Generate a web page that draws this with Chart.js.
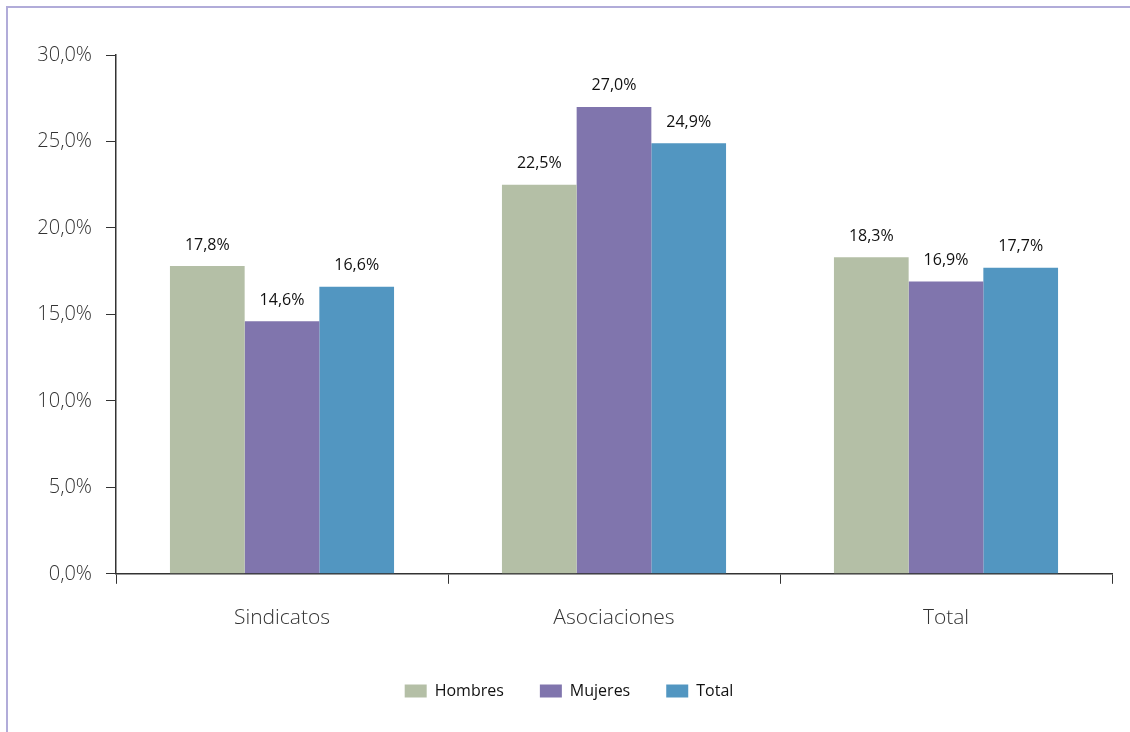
<!DOCTYPE html>
<html>
<head>
<meta charset="utf-8">
<script src="https://cdn.jsdelivr.net/npm/chart.js@4"></script>
<style>
  html, body { margin: 0; padding: 0; background: #fff; }
  #frame {
    position: absolute; left: 6px; top: 6px; right: 0; bottom: 0;
    border-top: 2px solid #b1acd9; border-left: 2px solid #b1acd9;
  }
  #wrap { position: absolute; left: 0; top: 0; width: 1130px; height: 732px; }
</style>
</head>
<body>
<div id="frame"></div>
<div id="wrap"><canvas id="chart" width="1130" height="732"></canvas></div>
<script>
const categories = ['Sindicatos', 'Asociaciones', 'Total'];
const hombres = [17.8, 22.5, 18.3];
const mujeres = [14.6, 27.0, 16.9];
const total = [16.6, 24.9, 17.7];
const yTicks = [0, 5, 10, 15, 20, 25, 30];

const fmt = v => v.toFixed(1).replace('.', ',') + '%';
const FONT = '"Open Sans", "DejaVu Sans", sans-serif';

// value labels above each bar
const barLabels = {
  id: 'barLabels',
  afterDatasetsDraw(chart) {
    const ctx = chart.ctx;
    ctx.save();
    ctx.font = '16px ' + FONT;
    ctx.fillStyle = '#111';
    ctx.textAlign = 'center';
    ctx.textBaseline = 'middle';
    chart.data.datasets.forEach((ds, i) => {
      chart.getDatasetMeta(i).data.forEach((bar, j) => {
        ctx.fillText(fmt(ds.data[j]), bar.x, bar.y - 21);
      });
    });
    ctx.restore();
  }
};

new Chart(document.getElementById('chart'), {
  type: 'bar',
  data: {
    labels: categories,
    datasets: [
      { label: 'Hombres', data: hombres, backgroundColor: '#b4bfa6' },
      { label: 'Mujeres', data: mujeres, backgroundColor: '#8075ad' },
      { label: 'Total', data: total, backgroundColor: '#5296c1' }
    ]
  },
  options: {
    responsive: false,
    animation: false,
    layout: { padding: { top: 55, right: 0, left: 8, bottom: 23 } },
    datasets: { bar: { categoryPercentage: 0.675, barPercentage: 1 } },
    plugins: {
      tooltip: { enabled: false },
      legend: {
        position: 'bottom',
        labels: {
          boxWidth: 22, boxHeight: 13, padding: 36,
          color: '#111',
          font: { family: FONT, size: 16 }
        }
      }
    },
    scales: {
      x: {
        afterFit: s => { s.height -= 6; },
        grid: { drawOnChartArea: false, color: '#333', tickLength: 10, offset: true },
        border: { color: '#333', width: 1.5 },
        ticks: { color: '#333', padding: 22, font: { family: FONT, size: 21, weight: 300 } }
      },
      y: {
        min: 0, max: 30,
        afterBuildTicks: s => { s.ticks = yTicks.map(v => ({ value: v })); },
        afterFit: s => { s.width = 108; },
        grid: { drawOnChartArea: false, color: '#333', tickLength: 10 },
        border: { color: '#333', width: 1.5 },
        ticks: { color: '#333', padding: 14, callback: v => fmt(v), font: { family: FONT, size: 20, weight: 300 } }
      },
      // empty right axis, only keeps the plot away from the right edge
      yRight: {
        position: 'right',
        afterFit: s => { s.width = 18; },
        grid: { display: false },
        border: { display: false },
        ticks: { display: false }
      }
    }
  },
  plugins: [barLabels]
});
</script>
</body>
</html>
